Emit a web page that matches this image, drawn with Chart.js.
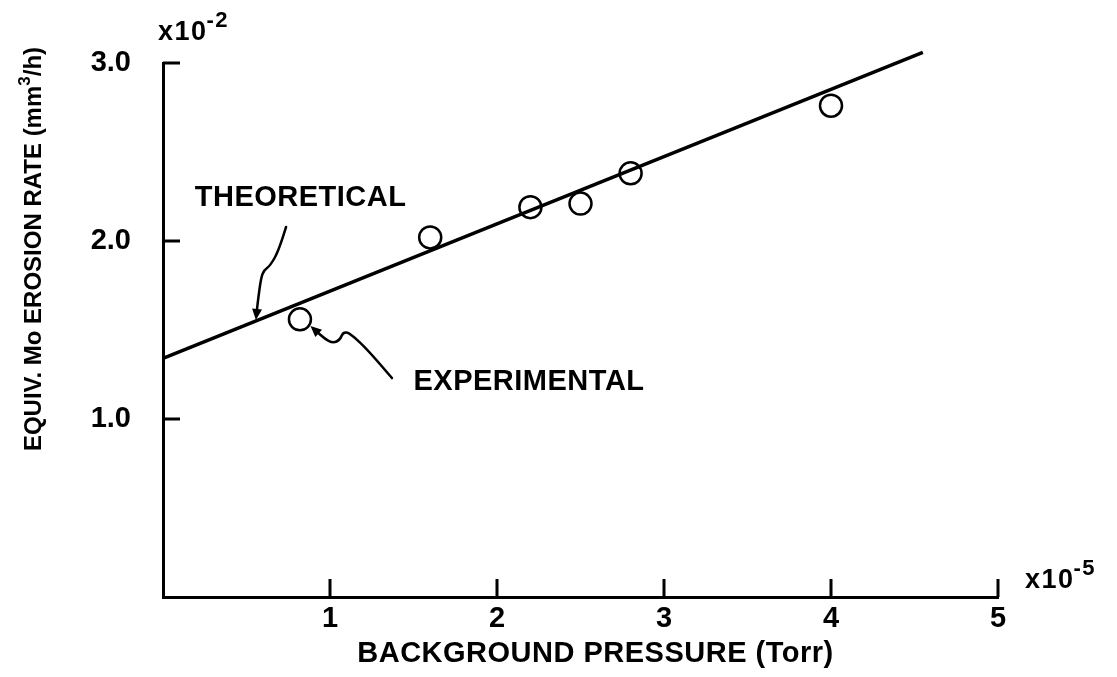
<!DOCTYPE html>
<html>
<head>
<meta charset="utf-8">
<script src="https://cdn.jsdelivr.net/npm/chart.js@4.4.1/dist/chart.umd.min.js"></script>
<style>
  html, body { margin: 0; padding: 0; background: #fff; }
  #wrap { width: 1117px; height: 677px; }
</style>
</head>
<body>
<div id="wrap"><canvas id="erosionChart" width="1117" height="677"></canvas></div>
<script>
// experimental points (x in 1e-5 Torr, y in 1e-2 mm3/h)
const expPressure = [0.82, 1.6, 2.2, 2.5, 2.8, 4.0];
const expRate = [1.56, 2.02, 2.19, 2.21, 2.38, 2.76];

// theoretical line end points
const theoryPressure = [0, 4.55];
const theoryRate = [1.34, 3.06];

const xTicks = [1, 2, 3, 4, 5];
const yTicks = [1, 2, 3];

// hand drawn leader curves for the labels, data units
const theoryLeader = [[0.737, 2.079], [0.695, 1.949], [0.641, 1.860], [0.605, 1.837], [0.587, 1.792], [0.569, 1.669], [0.56, 1.59]];
const expLeader = [[1.371, 1.230], [1.240, 1.376], [1.120, 1.483], [1.078, 1.489], [1.060, 1.444], [1.018, 1.427], [0.970, 1.449], [0.91, 1.50]];

const FONT = 'Liberation Sans, Arial, Helvetica, sans-serif';

const pt = (xs, ys) => xs.map((x, i) => ({ x: x, y: ys[i] }));

function drawLeader(ctx, xs, ys, pts) {
    const p = pts.map(q => [xs.getPixelForValue(q[0]), ys.getPixelForValue(q[1])]);
    ctx.beginPath();
    ctx.moveTo(p[0][0], p[0][1]);
    for (let i = 1; i < p.length - 1; i++) {
        const mx = (p[i][0] + p[i + 1][0]) / 2, my = (p[i][1] + p[i + 1][1]) / 2;
        ctx.quadraticCurveTo(p[i][0], p[i][1], mx, my);
    }
    const a = p[p.length - 2], b = p[p.length - 1];
    ctx.lineTo(b[0], b[1]);
    ctx.stroke();
    // arrow head
    const ang = Math.atan2(b[1] - a[1], b[0] - a[0]);
    const len = 11, w = 5;
    const tx = b[0] + Math.cos(ang) * 6, ty = b[1] + Math.sin(ang) * 6;
    ctx.beginPath();
    ctx.moveTo(tx, ty);
    ctx.lineTo(tx - len * Math.cos(ang) + w * Math.sin(ang), ty - len * Math.sin(ang) - w * Math.cos(ang));
    ctx.lineTo(tx - len * Math.cos(ang) - w * Math.sin(ang), ty - len * Math.sin(ang) + w * Math.cos(ang));
    ctx.closePath();
    ctx.fill();
}

const decorPlugin = {
    id: 'decor',
    afterDraw(chart) {
        const ctx = chart.ctx;
        const xs = chart.scales.x, ys = chart.scales.y;
        const { left, right, top, bottom } = chart.chartArea;
        ctx.save();
        ctx.strokeStyle = '#000';
        ctx.fillStyle = '#000';
        ctx.lineWidth = 3;

        // inward tick marks
        ctx.beginPath();
        xTicks.forEach(v => {
            const px = xs.getPixelForValue(v);
            ctx.moveTo(px, bottom);
            ctx.lineTo(px, bottom - 18);
        });
        yTicks.forEach(v => {
            const py = ys.getPixelForValue(v);
            ctx.moveTo(left, py);
            ctx.lineTo(left + 17, py);
        });
        ctx.stroke();

        // leaders
        ctx.lineWidth = 2.5;
        ctx.lineCap = 'round';
        drawLeader(ctx, xs, ys, theoryLeader);
        drawLeader(ctx, xs, ys, expLeader);

        // labels
        ctx.textBaseline = 'middle';
        ctx.textAlign = 'left';
        ctx.font = 'bold 29px ' + FONT;
        ctx.letterSpacing = '0.5px';
        ctx.fillText('THEORETICAL', xs.getPixelForValue(0.19), ys.getPixelForValue(2.24));
        ctx.fillText('EXPERIMENTAL', xs.getPixelForValue(1.5), ys.getPixelForValue(1.21));

        // x axis title
        ctx.textAlign = 'center';
        ctx.fillText('BACKGROUND PRESSURE (Torr)', (left + right) / 2 + 15, bottom + 57);

        // y axis title with superscript
        ctx.save();
        ctx.translate(left - 131, (top + bottom) / 2 - 81);
        ctx.rotate(-Math.PI / 2);
        ctx.textAlign = 'left';
        ctx.textBaseline = 'alphabetic';
        ctx.letterSpacing = '0px';
        const big = 'bold 24px ' + FONT, small = 'bold 17px ' + FONT;
        const s1 = 'EQUIV. Mo EROSION RATE (mm', s2 = '3', s3 = '/h)';
        ctx.font = big;
        const w1 = ctx.measureText(s1).width, w3 = ctx.measureText(s3).width;
        ctx.font = small;
        const w2 = ctx.measureText(s2).width;
        let x0 = -(w1 + w2 + w3) / 2;
        const base = 9;
        ctx.font = big;
        ctx.fillText(s1, x0, base);
        ctx.font = small;
        ctx.fillText(s2, x0 + w1, base - 11);
        ctx.font = big;
        ctx.fillText(s3, x0 + w1 + w2, base);
        ctx.restore();

        // exponent markers
        ctx.textAlign = 'left';
        ctx.textBaseline = 'alphabetic';
        ctx.letterSpacing = '1.5px';
        ctx.font = 'bold 27px ' + FONT;
        let w = ctx.measureText('x10').width;
        ctx.fillText('x10', left - 5, top - 23);
        ctx.font = 'bold 22px ' + FONT;
        ctx.fillText('-2', left - 6 + w, top - 36);

        ctx.font = 'bold 27px ' + FONT;
        w = ctx.measureText('x10').width;
        ctx.fillText('x10', right + 27, bottom - 9);
        ctx.font = 'bold 22px ' + FONT;
        ctx.fillText('-5', right + 26 + w, bottom - 22);
        ctx.restore();
    }
};

const tickFont = { family: FONT, weight: 'bold', size: 29 };

new Chart(document.getElementById('erosionChart').getContext('2d'), {
    type: 'scatter',
    data: {
        datasets: [
            {
                type: 'line',
                label: 'THEORETICAL',
                data: pt(theoryPressure, theoryRate),
                borderColor: '#000',
                borderWidth: 3.5,
                pointRadius: 0,
                fill: false,
                clip: false
            },
            {
                label: 'EXPERIMENTAL',
                data: pt(expPressure, expRate),
                pointRadius: 11,
                pointBorderWidth: 2.5,
                borderColor: '#000',
                backgroundColor: 'rgba(0,0,0,0)',
                clip: false
            }
        ]
    },
    options: {
        responsive: false,
        animation: false,
        events: [],
        layout: { padding: { top: 63, right: 119, left: 0, bottom: 0 } },
        plugins: { legend: { display: false }, tooltip: { enabled: false } },
        scales: {
            x: {
                type: 'linear',
                min: 0,
                max: 5,
                afterFit: s => { s.height = 80; },
                grid: { display: false },
                border: { display: true, color: '#000', width: 3 },
                ticks: {
                    stepSize: 1,
                    padding: -3,
                    color: '#000',
                    font: tickFont,
                    callback: v => xTicks.includes(v) ? String(v) : ''
                }
            },
            y: {
                type: 'linear',
                min: 0,
                max: 3,
                afterFit: s => { s.width = 163; },
                grid: { display: false },
                border: { display: true, color: '#000', width: 3 },
                ticks: {
                    stepSize: 1,
                    padding: 24,
                    color: '#000',
                    font: tickFont,
                    callback: v => yTicks.includes(v) ? v.toFixed(1) : ''
                }
            }
        }
    },
    plugins: [decorPlugin]
});
</script>
</body>
</html>
